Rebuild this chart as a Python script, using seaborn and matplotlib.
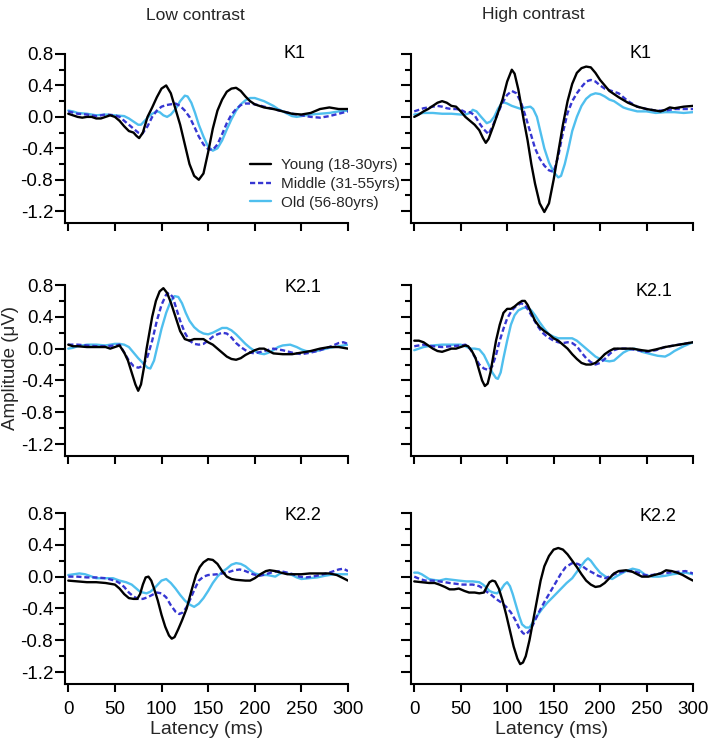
import numpy as np
import pandas as pd
import matplotlib
matplotlib.use("Agg")
import matplotlib.pyplot as plt
from matplotlib.ticker import MultipleLocator, FixedLocator, FormatStrFormatter
import seaborn as sns

# ---------------- data ----------------
GROUPS = ["Young (18-30yrs)", "Middle (31-55yrs)", "Old (56-80yrs)"]
CONTRASTS = ["Low contrast", "High contrast"]
KERNELS = ["K1", "K2.1", "K2.2"]
Y_TICKS = [0.8, 0.4, 0.0, -0.4, -0.8, -1.2]
X_TICKS = [0, 50, 100, 150, 200, 250, 300]

# Low contrast, K1
LOW_K1_YOUNG_T = [0, 5, 10, 15, 20, 25, 30, 35, 40, 45, 50, 55, 60, 65, 70, 73, 76, 80, 85, 90, 95, 100, 105, 110, 115, 120, 125, 130, 135, 140, 145, 150, 155, 160, 165, 170, 175, 180, 185, 190, 195, 200, 210, 220, 230, 240, 250, 260, 270, 280, 290, 300]
LOW_K1_YOUNG_A = [0.04, 0.02, 0.0, -0.01, 0.0, 0.0, -0.02, -0.02, 0.0, 0.02, 0.0, -0.05, -0.12, -0.18, -0.2, -0.24, -0.27, -0.2, 0.0, 0.12, 0.25, 0.36, 0.4, 0.3, 0.1, -0.1, -0.35, -0.6, -0.75, -0.8, -0.72, -0.45, -0.15, 0.08, 0.22, 0.32, 0.36, 0.37, 0.33, 0.26, 0.2, 0.16, 0.12, 0.1, 0.07, 0.04, 0.03, 0.05, 0.1, 0.12, 0.1, 0.1]
LOW_K1_MIDDLE_T = [0, 10, 20, 30, 40, 50, 55, 60, 65, 70, 75, 79, 85, 90, 95, 100, 105, 110, 115, 120, 125, 130, 135, 140, 145, 150, 155, 160, 165, 170, 175, 180, 185, 190, 195, 200, 210, 220, 230, 240, 250, 260, 270, 280, 290, 300]
LOW_K1_MIDDLE_A = [0.07, 0.04, 0.03, 0.01, 0.03, 0.02, 0.0, -0.05, -0.1, -0.15, -0.2, -0.22, -0.12, 0.0, 0.08, 0.13, 0.15, 0.16, 0.17, 0.14, 0.08, 0.0, -0.12, -0.25, -0.35, -0.41, -0.42, -0.35, -0.22, -0.08, 0.03, 0.1, 0.15, 0.17, 0.17, 0.16, 0.13, 0.1, 0.07, 0.04, 0.02, 0.0, -0.01, 0.01, 0.04, 0.07]
LOW_K1_OLD_T = [0, 5, 10, 20, 30, 40, 50, 60, 65, 70, 75, 78, 82, 86, 90, 95, 98, 102, 106, 110, 115, 120, 125, 128, 132, 136, 140, 145, 150, 155, 160, 165, 170, 175, 180, 185, 190, 195, 200, 205, 210, 215, 220, 225, 230, 235, 240, 245, 250, 260, 270, 280, 290, 300]
LOW_K1_OLD_A = [0.08, 0.07, 0.05, 0.04, 0.02, 0.03, 0.02, 0.01, -0.02, -0.06, -0.1, -0.1, -0.05, 0.0, 0.04, 0.07, 0.06, 0.02, 0.0, 0.03, 0.1, 0.2, 0.27, 0.26, 0.18, 0.05, -0.1, -0.25, -0.38, -0.43, -0.4, -0.3, -0.16, -0.03, 0.08, 0.16, 0.21, 0.24, 0.24, 0.22, 0.2, 0.17, 0.14, 0.1, 0.07, 0.04, 0.01, 0.0, 0.01, 0.03, 0.04, 0.05, 0.07, 0.08]

# High contrast, K1
HIGH_K1_YOUNG_T = [0, 5, 10, 15, 20, 25, 30, 35, 40, 45, 50, 55, 60, 65, 70, 74, 77, 80, 85, 90, 95, 100, 105, 108, 112, 115, 118, 122, 126, 130, 135, 140, 145, 150, 155, 160, 165, 170, 175, 180, 185, 190, 195, 200, 205, 210, 220, 230, 240, 250, 260, 265, 270, 275, 280, 290, 300]
HIGH_K1_YOUNG_A = [0.0, 0.03, 0.07, 0.1, 0.14, 0.18, 0.2, 0.18, 0.14, 0.13, 0.07, 0.0, -0.05, -0.1, -0.17, -0.27, -0.33, -0.28, -0.12, 0.05, 0.22, 0.45, 0.6, 0.55, 0.35, 0.15, -0.05, -0.3, -0.6, -0.85, -1.1, -1.21, -1.1, -0.8, -0.45, -0.1, 0.2, 0.42, 0.56, 0.62, 0.64, 0.63, 0.56, 0.47, 0.4, 0.33, 0.25, 0.18, 0.13, 0.1, 0.08, 0.07, 0.09, 0.12, 0.11, 0.13, 0.14]
HIGH_K1_MIDDLE_T = [0, 5, 10, 15, 20, 25, 30, 35, 40, 45, 50, 55, 60, 65, 70, 75, 80, 85, 90, 95, 100, 105, 110, 115, 120, 125, 130, 135, 140, 145, 150, 155, 160, 165, 170, 175, 180, 185, 190, 195, 200, 205, 210, 215, 220, 225, 230, 240, 250, 260, 270, 280, 290, 300]
HIGH_K1_MIDDLE_A = [0.07, 0.09, 0.11, 0.12, 0.13, 0.14, 0.13, 0.11, 0.1, 0.1, 0.09, 0.06, 0.06, 0.02, -0.08, -0.16, -0.22, -0.1, 0.05, 0.18, 0.28, 0.33, 0.3, 0.18, 0.0, -0.2, -0.4, -0.53, -0.62, -0.68, -0.7, -0.5, -0.2, 0.05, 0.2, 0.3, 0.38, 0.45, 0.47, 0.45, 0.4, 0.36, 0.34, 0.32, 0.3, 0.25, 0.2, 0.13, 0.1, 0.08, 0.08, 0.1, 0.1, 0.1]
HIGH_K1_OLD_T = [0, 10, 20, 30, 40, 50, 55, 60, 63, 67, 72, 78, 82, 86, 90, 95, 100, 105, 110, 115, 120, 125, 128, 132, 136, 140, 145, 150, 155, 158, 162, 166, 170, 175, 180, 185, 190, 195, 200, 205, 210, 215, 220, 225, 230, 240, 250, 260, 270, 280, 290, 300]
HIGH_K1_OLD_A = [0.03, 0.05, 0.05, 0.04, 0.04, 0.03, 0.03, 0.05, 0.09, 0.07, 0.0, -0.08, -0.06, 0.0, 0.1, 0.19, 0.17, 0.14, 0.12, 0.1, 0.12, 0.13, 0.1, 0.0, -0.2, -0.4, -0.58, -0.7, -0.77, -0.75, -0.6, -0.4, -0.18, 0.0, 0.14, 0.23, 0.28, 0.3, 0.29, 0.26, 0.22, 0.2, 0.16, 0.12, 0.1, 0.07, 0.07, 0.05, 0.06, 0.06, 0.05, 0.06]

# Low contrast, K2.1
LOW_K21_YOUNG_T = [0, 5, 10, 20, 30, 40, 45, 50, 55, 60, 64, 68, 72, 75, 78, 81, 84, 87, 90, 94, 98, 102, 106, 110, 115, 120, 125, 130, 135, 140, 145, 150, 155, 160, 165, 170, 175, 180, 185, 190, 195, 200, 205, 210, 215, 220, 230, 240, 250, 260, 270, 280, 290, 300]
LOW_K21_YOUNG_A = [0.05, 0.03, 0.03, 0.02, 0.02, 0.02, 0.0, 0.02, 0.04, -0.05, -0.15, -0.3, -0.45, -0.53, -0.45, -0.25, 0.0, 0.2, 0.4, 0.6, 0.72, 0.76, 0.7, 0.58, 0.4, 0.22, 0.12, 0.1, 0.12, 0.12, 0.12, 0.08, 0.05, 0.0, -0.05, -0.1, -0.13, -0.14, -0.12, -0.08, -0.05, -0.02, 0.0, 0.0, -0.03, -0.06, -0.07, -0.07, -0.05, -0.03, 0.0, 0.02, 0.02, 0.0]
LOW_K21_MIDDLE_T = [0, 10, 20, 30, 40, 50, 55, 60, 65, 70, 75, 80, 85, 90, 95, 100, 105, 108, 112, 116, 120, 125, 130, 135, 140, 145, 150, 155, 160, 165, 170, 175, 180, 185, 190, 195, 200, 210, 220, 230, 240, 250, 260, 270, 280, 290, 295, 300]
LOW_K21_MIDDLE_A = [0.05, 0.05, 0.04, 0.03, 0.03, 0.04, 0.05, -0.05, -0.15, -0.22, -0.24, -0.22, -0.1, 0.1, 0.35, 0.55, 0.68, 0.7, 0.65, 0.5, 0.35, 0.2, 0.1, 0.06, 0.05, 0.06, 0.1, 0.15, 0.18, 0.2, 0.19, 0.14, 0.07, 0.02, -0.02, -0.05, -0.06, -0.03, 0.0, -0.02, -0.05, -0.07, -0.05, -0.02, 0.02, 0.07, 0.08, 0.06]
LOW_K21_OLD_T = [0, 5, 10, 20, 30, 40, 50, 55, 60, 65, 70, 75, 80, 85, 88, 92, 96, 100, 105, 110, 114, 118, 122, 126, 130, 135, 140, 145, 150, 155, 160, 165, 170, 175, 180, 185, 190, 195, 200, 205, 210, 215, 220, 225, 230, 238, 245, 250, 255, 263, 270, 280, 290, 300]
LOW_K21_OLD_A = [0.0, 0.01, 0.03, 0.05, 0.05, 0.04, 0.06, 0.06, 0.05, 0.02, -0.05, -0.12, -0.18, -0.24, -0.25, -0.15, 0.05, 0.25, 0.45, 0.6, 0.66, 0.65, 0.57, 0.45, 0.35, 0.27, 0.22, 0.19, 0.18, 0.2, 0.23, 0.26, 0.26, 0.23, 0.18, 0.12, 0.06, 0.01, -0.03, -0.06, -0.07, -0.05, -0.02, 0.02, 0.04, 0.05, 0.02, -0.01, -0.03, -0.04, -0.02, 0.01, 0.03, 0.05]

# High contrast, K2.1
HIGH_K21_YOUNG_T = [0, 5, 10, 15, 20, 25, 30, 35, 40, 45, 50, 55, 58, 62, 66, 70, 73, 76, 79, 82, 85, 88, 92, 96, 100, 104, 108, 112, 116, 119, 122, 126, 130, 135, 140, 145, 150, 155, 160, 165, 170, 175, 180, 185, 190, 195, 200, 205, 210, 215, 225, 235, 245, 252, 260, 270, 280, 290, 300]
HIGH_K21_YOUNG_A = [0.1, 0.1, 0.08, 0.04, 0.0, -0.03, -0.04, -0.02, 0.0, 0.0, 0.02, 0.04, 0.03, -0.03, -0.12, -0.28, -0.4, -0.47, -0.44, -0.3, -0.1, 0.1, 0.3, 0.45, 0.5, 0.5, 0.53, 0.57, 0.6, 0.6, 0.55, 0.45, 0.35, 0.27, 0.22, 0.18, 0.13, 0.1, 0.05, 0.0, -0.07, -0.13, -0.18, -0.2, -0.2, -0.18, -0.13, -0.07, -0.03, 0.0, 0.0, 0.0, -0.02, -0.03, -0.01, 0.02, 0.04, 0.06, 0.08]
HIGH_K21_MIDDLE_T = [0, 10, 20, 30, 40, 50, 55, 60, 65, 70, 75, 80, 84, 88, 92, 96, 100, 105, 110, 115, 119, 123, 128, 133, 138, 143, 150, 155, 160, 165, 170, 175, 180, 185, 190, 195, 200, 205, 210, 215, 220, 230, 240, 250, 260, 270, 280, 290, 300]
HIGH_K21_MIDDLE_A = [0.03, 0.05, 0.03, 0.02, 0.03, 0.04, 0.05, 0.0, -0.1, -0.2, -0.25, -0.27, -0.22, -0.08, 0.1, 0.25, 0.38, 0.48, 0.54, 0.57, 0.55, 0.48, 0.38, 0.28, 0.2, 0.15, 0.1, 0.08, 0.07, 0.08, 0.07, 0.03, -0.05, -0.12, -0.17, -0.2, -0.18, -0.13, -0.07, -0.02, 0.0, 0.0, -0.02, -0.04, -0.02, 0.02, 0.04, 0.06, 0.08]
HIGH_K21_OLD_T = [0, 5, 10, 20, 30, 40, 50, 55, 60, 65, 70, 75, 80, 84, 88, 90, 93, 96, 100, 104, 108, 112, 117, 122, 126, 130, 135, 140, 145, 150, 155, 160, 165, 170, 175, 180, 185, 190, 195, 200, 205, 210, 215, 220, 225, 230, 237, 245, 255, 262, 270, 275, 280, 290, 300]
HIGH_K21_OLD_A = [-0.02, 0.0, 0.02, 0.04, 0.05, 0.05, 0.05, 0.03, 0.0, 0.0, -0.01, -0.08, -0.2, -0.3, -0.37, -0.38, -0.3, -0.12, 0.1, 0.3, 0.42, 0.48, 0.51, 0.52, 0.48, 0.42, 0.33, 0.25, 0.18, 0.15, 0.13, 0.13, 0.13, 0.13, 0.1, 0.05, 0.0, -0.05, -0.1, -0.13, -0.15, -0.16, -0.15, -0.1, -0.05, -0.02, 0.0, -0.04, -0.07, -0.09, -0.1, -0.07, -0.03, 0.03, 0.08]

# Low contrast, K2.2
LOW_K22_YOUNG_T = [0, 10, 20, 30, 40, 50, 55, 60, 65, 70, 74, 77, 80, 83, 86, 89, 92, 96, 100, 104, 108, 111, 114, 118, 122, 127, 132, 137, 141, 145, 150, 155, 160, 165, 170, 175, 180, 190, 195, 200, 206, 212, 216, 222, 228, 235, 241, 250, 259, 270, 280, 288, 295, 300]
LOW_K22_YOUNG_A = [-0.05, -0.06, -0.07, -0.07, -0.08, -0.1, -0.15, -0.22, -0.27, -0.28, -0.28, -0.22, -0.1, -0.01, 0.0, -0.05, -0.15, -0.3, -0.48, -0.63, -0.74, -0.78, -0.76, -0.66, -0.55, -0.4, -0.18, 0.02, 0.12, 0.18, 0.22, 0.21, 0.16, 0.07, 0.0, -0.03, -0.04, -0.05, -0.05, -0.02, 0.03, 0.07, 0.08, 0.07, 0.05, 0.03, 0.03, 0.03, 0.04, 0.04, 0.04, 0.02, -0.02, -0.05]
LOW_K22_MIDDLE_T = [0, 10, 20, 30, 40, 50, 55, 60, 65, 70, 75, 80, 85, 90, 95, 100, 105, 110, 115, 119, 123, 127, 131, 135, 140, 145, 150, 160, 170, 178, 184, 190, 198, 205, 212, 220, 227, 235, 241, 248, 255, 262, 270, 280, 290, 295, 300]
LOW_K22_MIDDLE_A = [0.0, 0.0, -0.01, -0.01, -0.02, -0.05, -0.08, -0.13, -0.2, -0.25, -0.28, -0.28, -0.26, -0.23, -0.2, -0.21, -0.26, -0.36, -0.44, -0.47, -0.45, -0.38, -0.28, -0.17, -0.05, 0.0, 0.02, 0.03, 0.05, 0.08, 0.09, 0.07, 0.03, 0.01, 0.03, 0.06, 0.07, 0.05, 0.03, 0.0, -0.01, 0.0, 0.02, 0.05, 0.09, 0.1, 0.07]
LOW_K22_OLD_T = [0, 6, 12, 18, 23, 30, 40, 48, 55, 62, 68, 72, 76, 80, 84, 88, 92, 96, 100, 105, 110, 115, 120, 125, 130, 135, 140, 145, 150, 155, 160, 165, 170, 175, 180, 185, 190, 195, 200, 207, 213, 218, 222, 226, 230, 235, 240, 245, 250, 258, 267, 275, 285, 300]
LOW_K22_OLD_A = [0.02, 0.03, 0.04, 0.03, 0.01, -0.02, -0.02, -0.02, -0.05, -0.07, -0.1, -0.14, -0.18, -0.2, -0.21, -0.19, -0.15, -0.1, -0.05, -0.03, -0.08, -0.15, -0.23, -0.3, -0.35, -0.38, -0.34, -0.27, -0.18, -0.08, 0.0, 0.06, 0.1, 0.15, 0.17, 0.16, 0.13, 0.08, 0.04, 0.02, 0.02, 0.01, 0.0, 0.03, 0.05, 0.04, 0.02, -0.01, -0.03, -0.02, -0.01, 0.01, 0.03, 0.03]

# High contrast, K2.2
HIGH_K22_YOUNG_T = [0, 8, 16, 22, 27, 33, 38, 43, 48, 54, 59, 65, 70, 75, 78, 81, 84, 87, 91, 95, 99, 103, 107, 111, 114, 117, 120, 124, 128, 132, 136, 140, 145, 150, 155, 160, 165, 170, 175, 180, 185, 190, 195, 200, 205, 210, 215, 220, 228, 235, 240, 245, 252, 258, 265, 271, 277, 283, 289, 295, 300]
HIGH_K22_YOUNG_A = [-0.06, -0.07, -0.08, -0.08, -0.1, -0.13, -0.16, -0.16, -0.15, -0.18, -0.2, -0.2, -0.21, -0.2, -0.13, -0.07, -0.05, -0.06, -0.15, -0.3, -0.48, -0.68, -0.88, -1.03, -1.1, -1.08, -1.0, -0.8, -0.55, -0.3, -0.05, 0.13, 0.26, 0.34, 0.36, 0.34, 0.28, 0.2, 0.12, 0.03, -0.05, -0.1, -0.13, -0.12, -0.08, -0.02, 0.04, 0.07, 0.08, 0.06, 0.03, 0.0, 0.0, 0.02, 0.04, 0.08, 0.07, 0.05, 0.02, -0.02, -0.05]
HIGH_K22_MIDDLE_T = [0, 6, 12, 20, 27, 33, 38, 45, 52, 58, 63, 70, 74, 78, 83, 88, 93, 99, 104, 109, 113, 117, 120, 124, 128, 134, 140, 146, 152, 158, 163, 170, 176, 181, 187, 192, 198, 206, 213, 220, 228, 235, 241, 248, 256, 265, 274, 283, 292, 300]
HIGH_K22_MIDDLE_A = [0.0, -0.03, -0.05, -0.05, -0.06, -0.07, -0.08, -0.09, -0.1, -0.1, -0.1, -0.12, -0.15, -0.19, -0.23, -0.28, -0.32, -0.38, -0.45, -0.55, -0.65, -0.71, -0.73, -0.68, -0.6, -0.45, -0.32, -0.2, -0.08, 0.04, 0.12, 0.17, 0.16, 0.13, 0.08, 0.05, 0.01, -0.02, 0.02, 0.05, 0.07, 0.07, 0.05, 0.02, 0.02, 0.04, 0.05, 0.06, 0.07, 0.04]
HIGH_K22_OLD_T = [0, 4, 8, 12, 16, 20, 27, 34, 41, 48, 56, 63, 70, 74, 77, 81, 85, 89, 93, 97, 100, 103, 106, 110, 113, 116, 120, 124, 128, 133, 138, 143, 149, 154, 159, 164, 170, 175, 180, 184, 187, 190, 195, 200, 206, 213, 220, 228, 235, 242, 249, 256, 263, 270, 278, 285, 292, 300]
HIGH_K22_OLD_A = [0.05, 0.05, 0.03, 0.0, -0.03, -0.04, -0.05, -0.03, -0.04, -0.05, -0.06, -0.06, -0.07, -0.1, -0.13, -0.18, -0.2, -0.21, -0.17, -0.1, -0.07, -0.12, -0.22, -0.38, -0.5, -0.6, -0.64, -0.64, -0.57, -0.48, -0.4, -0.33, -0.26, -0.2, -0.14, -0.08, -0.02, 0.06, 0.14, 0.2, 0.23, 0.2, 0.12, 0.05, 0.0, -0.03, 0.02, 0.07, 0.1, 0.08, 0.02, 0.0, 0.0, 0.01, 0.03, 0.04, 0.05, 0.03]

SERIES = {
    ("Low contrast", "K1"): [(LOW_K1_YOUNG_T, LOW_K1_YOUNG_A), (LOW_K1_MIDDLE_T, LOW_K1_MIDDLE_A), (LOW_K1_OLD_T, LOW_K1_OLD_A)],
    ("High contrast", "K1"): [(HIGH_K1_YOUNG_T, HIGH_K1_YOUNG_A), (HIGH_K1_MIDDLE_T, HIGH_K1_MIDDLE_A), (HIGH_K1_OLD_T, HIGH_K1_OLD_A)],
    ("Low contrast", "K2.1"): [(LOW_K21_YOUNG_T, LOW_K21_YOUNG_A), (LOW_K21_MIDDLE_T, LOW_K21_MIDDLE_A), (LOW_K21_OLD_T, LOW_K21_OLD_A)],
    ("High contrast", "K2.1"): [(HIGH_K21_YOUNG_T, HIGH_K21_YOUNG_A), (HIGH_K21_MIDDLE_T, HIGH_K21_MIDDLE_A), (HIGH_K21_OLD_T, HIGH_K21_OLD_A)],
    ("Low contrast", "K2.2"): [(LOW_K22_YOUNG_T, LOW_K22_YOUNG_A), (LOW_K22_MIDDLE_T, LOW_K22_MIDDLE_A), (LOW_K22_OLD_T, LOW_K22_OLD_A)],
    ("High contrast", "K2.2"): [(HIGH_K22_YOUNG_T, HIGH_K22_YOUNG_A), (HIGH_K22_MIDDLE_T, HIGH_K22_MIDDLE_A), (HIGH_K22_OLD_T, HIGH_K22_OLD_A)],
}

rows = []
for (contrast, kernel), series in SERIES.items():
    for group, (lat, amp) in zip(GROUPS, series):
        for t, a in zip(lat, amp):
            rows.append({"Contrast": contrast, "Kernel": kernel, "Group": group,
                         "Latency": t, "Amplitude": a})
df = pd.DataFrame(rows)

# ---------------- style ----------------
sns.set_theme(style="ticks")
plt.rcParams["font.family"] = ["Liberation Sans", "DejaVu Sans"]
plt.rcParams["axes.unicode_minus"] = False

PALETTE = {GROUPS[0]: "#000000", GROUPS[1]: "#3636d2", GROUPS[2]: "#4fbfee"}
DASHES = {GROUPS[0]: "", GROUPS[1]: (2.2, 1.2), GROUPS[2]: ""}
DRAW_ORDER = [GROUPS[2], GROUPS[1], GROUPS[0]]

W, H = 708, 743
fig = plt.figure(figsize=(W / 100, H / 100), dpi=100)

col_px = [(65, 348), (411, 693)]
row_px = [(54, 223), (285, 456), (513, 684)]
label_pos = {(0, 0): (243, 0.81), (0, 1): (252, 0.77), (0, 2): (252, 0.77),
             (1, 0): (243, 0.81), (1, 1): (258, 0.72), (1, 2): (262, 0.75)}

axes = {}
for r, kernel in enumerate(KERNELS):
    for c, contrast in enumerate(CONTRASTS):
        x0, x1 = col_px[c]
        y0, y1 = row_px[r]
        ax = fig.add_axes([x0 / W, 1 - y1 / H, (x1 - x0) / W, (y1 - y0) / H])
        sub = df[(df.Contrast == contrast) & (df.Kernel == kernel)]
        sns.lineplot(data=sub, x="Latency", y="Amplitude", hue="Group", style="Group",
                     hue_order=DRAW_ORDER, style_order=DRAW_ORDER, palette=PALETTE,
                     dashes=DASHES, estimator=None, sort=False, legend=False,
                     linewidth=1.7, ax=ax)
        ax.set_xlim(-3.5, 300)
        ax.set_ylim(-1.35, 0.8)
        ax.xaxis.set_major_locator(FixedLocator(X_TICKS))
        ax.yaxis.set_major_locator(FixedLocator(Y_TICKS))
        ax.yaxis.set_minor_locator(MultipleLocator(0.2))
        ax.yaxis.set_major_formatter(FormatStrFormatter("%.1f"))
        sns.despine(ax=ax)
        for s in ("left", "bottom"):
            ax.spines[s].set_linewidth(1.5)
            ax.spines[s].set_color("black")
        ax.tick_params(axis="y", which="major", direction="out", length=7, width=1.5,
                       color="black", labelsize=13.5, pad=1.5, labelcolor="black")
        ax.tick_params(axis="x", which="major", direction="out", length=6, width=1.5,
                       color="black", labelsize=13.5, pad=6, labelcolor="black")
        ax.tick_params(axis="y", which="minor", direction="out", length=4, width=1.5,
                       color="black")
        ax.set_xlabel("")
        ax.set_ylabel("")
        if c == 1:
            ax.tick_params(axis="y", labelleft=False)
        if r < 2:
            ax.tick_params(axis="x", labelbottom=False)
        lx, ly = label_pos[(c, r)]
        ax.text(lx, ly, kernel, ha="center", va="center", fontsize=13, color="black")
        axes[(r, c)] = ax

# legend in the top-left panel
ax0 = axes[(0, 0)]
lines = ax0.get_lines()
handles = [lines[2], lines[1], lines[0]]
ax0.legend(handles=handles, labels=GROUPS, loc="center left",
           bbox_to_anchor=(250 / W, 1 - 184 / H), bbox_transform=fig.transFigure,
           frameon=False, fontsize=11, handlelength=1.4, handletextpad=0.6,
           labelspacing=0.3, borderpad=0, borderaxespad=0)

fig.text(195 / W, 1 - 15 / H, "Low contrast", ha="center", va="center", fontsize=12.5)
fig.text(533 / W, 1 - 15 / H, "High contrast", ha="center", va="center", fontsize=12.5)
fig.text(11 / W, 1 - 368 / H, "Amplitude (μV)", rotation=90, ha="center", va="center",
         fontsize=13.5)
for c in range(2):
    x0, x1 = col_px[c]
    fig.text((x0 + x1) / 2 / W, 1 - 730 / H, "Latency (ms)", ha="center", va="center",
             fontsize=14)

fig.savefig("out.png", dpi=100, facecolor="white")
